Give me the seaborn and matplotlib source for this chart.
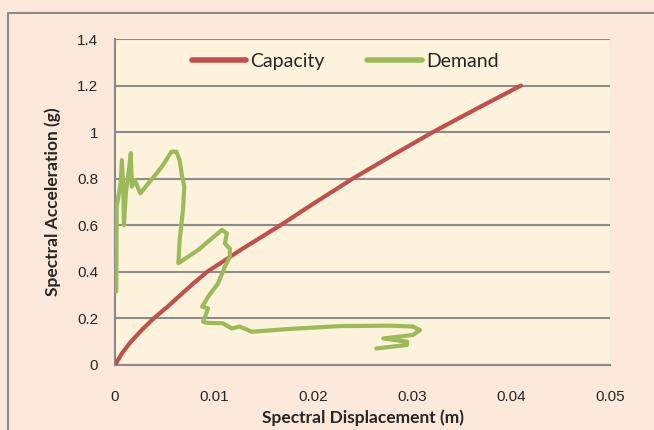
import numpy as np
import pandas as pd
import seaborn as sns
import matplotlib.pyplot as plt
from matplotlib.lines import Line2D

# capacity curve
cap_sd = [0.0, 0.0007, 0.0016, 0.0027, 0.0039, 0.0053, 0.0066, 0.0079, 0.0093,
          0.0129, 0.0167, 0.0203, 0.024, 0.028, 0.0321, 0.0365, 0.041]
cap_sa = [0.0, 0.05, 0.1, 0.15, 0.2, 0.25, 0.3, 0.35, 0.4,
          0.5, 0.6, 0.7, 0.8, 0.9, 1.0, 1.1, 1.2]

# demand curve (in drawing order)
dem_sd = [0.00013, 0.00017, 0.00057, 0.0007, 0.00084, 0.0009, 0.0011, 0.0014,
          0.0016, 0.0017, 0.002, 0.00256, 0.0035, 0.00434, 0.00485, 0.0057,
          0.0062, 0.00653, 0.00677, 0.0070, 0.00687, 0.00653, 0.0064, 0.0084,
          0.0108, 0.0113, 0.0111, 0.0116, 0.0116, 0.0111, 0.0104, 0.0094,
          0.0088, 0.0094, 0.0091, 0.0089, 0.0093, 0.0109, 0.0118, 0.0126,
          0.0138, 0.0177, 0.0227, 0.0278, 0.0301, 0.0308, 0.0301, 0.0271,
          0.0295, 0.0295, 0.0264]
dem_sa = [0.315, 0.68, 0.78, 0.88, 0.75, 0.60, 0.74, 0.837,
          0.91, 0.766, 0.794, 0.737, 0.787, 0.83, 0.859, 0.916,
          0.916, 0.88, 0.81, 0.766, 0.666, 0.537, 0.437, 0.494,
          0.58, 0.565, 0.522, 0.50, 0.465, 0.422, 0.35, 0.293,
          0.25, 0.243, 0.207, 0.186, 0.181, 0.179, 0.157, 0.165,
          0.143, 0.155, 0.167, 0.169, 0.165, 0.15, 0.129, 0.114,
          0.10, 0.086, 0.071]

x_ticks = [0, 0.01, 0.02, 0.03, 0.04, 0.05]
x_labels = ["0", "0.01", "0.02", "0.03", "0.04", "0.05"]
y_ticks = [0, 0.2, 0.4, 0.6, 0.8, 1.0, 1.2, 1.4]
y_labels = ["0", "0.2", "0.4", "0.6", "0.8", "1", "1.2", "1.4"]

cap = pd.DataFrame({"sd": cap_sd, "sa": cap_sa})
dem = pd.DataFrame({"sd": dem_sd, "sa": dem_sa})

sns.set_style("white")
plt.rcParams['font.family'] = ['Liberation Sans', 'DejaVu Sans']

fig = plt.figure(figsize=(6.54, 4.30), dpi=100, facecolor="#fde9db")
# outer chart border (only left and top edges are inside the image)
bx, by = 8 / 654, 1 - 13 / 430
fig.add_artist(Line2D([bx, bx, 1.0], [0.0, by, by], transform=fig.transFigure,
                      color="#8a8a8a", linewidth=1.5))
ax = fig.add_axes([115 / 654, 65 / 430, 495 / 654, 326 / 430])
ax.set_facecolor("#fdf2db")

sns.lineplot(data=cap, x="sd", y="sa", ax=ax, color="#c0504d", linewidth=3,
             sort=False, estimator=None, label="Capacity", zorder=3)
sns.lineplot(data=dem, x="sd", y="sa", ax=ax, color="#9bbb59", linewidth=3,
             sort=False, estimator=None, label="Demand", zorder=4)
for ln in ax.get_lines():
    ln.set_solid_joinstyle("round")
    ln.set_solid_capstyle("round")

ax.set_xlim(0, 0.05)
ax.set_ylim(0, 1.4)
ax.set_xticks(x_ticks)
ax.set_xticklabels(x_labels, fontsize=11)
ax.set_yticks(y_ticks)
ax.set_yticklabels(y_labels, fontsize=11)
ax.tick_params(axis="both", direction="out", length=5, width=1.2,
               color="#8a8a8a", pad=7)
ax.tick_params(axis="x", pad=13)
ax.grid(axis="y", color="#8c8c8c", linewidth=1.5)
ax.set_axisbelow(True)
for s in ["top", "right"]:
    ax.spines[s].set_visible(False)
for s in ["left", "bottom"]:
    ax.spines[s].set_color("#8a8a8a")
    ax.spines[s].set_linewidth(1.5)

ax.set_xlabel("Spectral Displacement (m)", fontsize=12.5, fontweight="bold",
              family=["Lato", "DejaVu Sans"], labelpad=4)
ax.set_ylabel("Spectral Acceleration (g)", fontsize=12.5, fontweight="bold",
              family=["Lato", "DejaVu Sans"], labelpad=12)

leg = ax.legend(loc="upper center", bbox_to_anchor=(0.465, 1.01), ncol=2,
                frameon=False, handlelength=2.8, handletextpad=0.2,
                columnspacing=2.2, prop={"family": ["Lato", "DejaVu Sans"], "size": 14})
for h in leg.get_lines():
    h.set_linewidth(4)
    h.set_solid_capstyle("round")

fig.savefig("out.png", dpi=100, facecolor=fig.get_facecolor())
